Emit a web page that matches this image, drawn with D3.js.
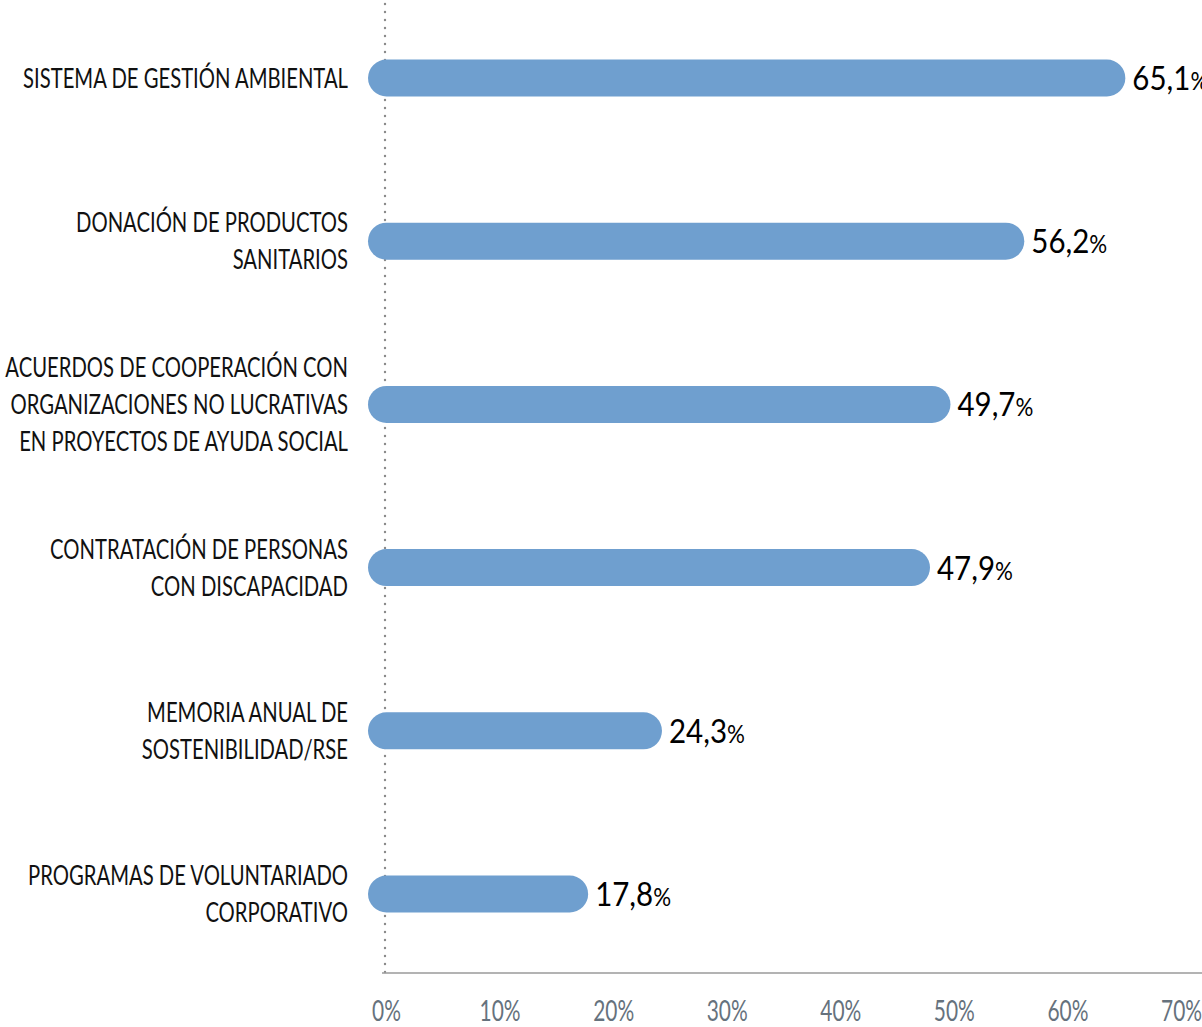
<!DOCTYPE html>
<html><head><meta charset="utf-8">
<script src="https://cdn.jsdelivr.net/npm/d3@7"></script>
<style>
html,body{margin:0;padding:0;background:#fff;}
text{font-family:Lato,"DejaVu Sans Condensed",sans-serif;}
</style></head>
<body><svg id="c" width="1202" height="1027"></svg>
<script>
const categories = [
  ["SISTEMA DE GESTIÓN AMBIENTAL"],
  ["DONACIÓN DE PRODUCTOS","SANITARIOS"],
  ["ACUERDOS DE COOPERACIÓN CON","ORGANIZACIONES NO LUCRATIVAS","EN PROYECTOS DE AYUDA SOCIAL"],
  ["CONTRATACIÓN DE PERSONAS","CON DISCAPACIDAD"],
  ["MEMORIA ANUAL DE","SOSTENIBILIDAD/RSE"],
  ["PROGRAMAS DE VOLUNTARIADO","CORPORATIVO"]
];
const values = [65.1, 56.2, 49.7, 47.9, 24.3, 17.8];
const valueLabels = ["65,1", "56,2", "49,7", "47,9", "24,3", "17,8"];
const ticks = [0, 10, 20, 30, 40, 50, 60, 70];

const svg = d3.select("#c");
const x = d3.scaleLinear().domain([0, 70]).range([386, 1181]);
const y = d3.scalePoint().domain(d3.range(values.length)).range([78, 894]);
const bh = 37;
const axisY = 973;
const labelX = 348;

// dotted vertical line
svg.append("line").attr("x1", x(0)-1).attr("x2", x(0)-1).attr("y1", 4).attr("y2", axisY)
  .attr("stroke", "#8a8a8a").attr("stroke-width", 2.4).attr("stroke-linecap", "round")
  .attr("stroke-dasharray", "0 8");

// bottom axis
const ax = svg.append("g").attr("transform", `translate(0,${axisY})`)
  .call(d3.axisBottom(x).tickValues(ticks).tickSize(0).tickPadding(27).tickFormat(d => d + "%"));
ax.select(".domain").attr("stroke", "#9a9a9a").attr("stroke-width", 1.5).attr("d", `M${x(0)-4},0H1202`);
const tickText = ax.selectAll("text").attr("font-size", 29).attr("fill", "#66727d")
  .attr("font-family", 'Lato,"DejaVu Sans Condensed",sans-serif').attr("font-weight", 400);
const tw = tickText.filter((d) => d === 10).node().getComputedTextLength();
const ts = 41 / tw;
tickText.attr("transform", `scale(${ts},1)`);

const g = svg.append("g");
const valueTexts = [];
const catTexts = [];
values.forEach((v, i) => {
  const cy = y(i);
  g.append("rect").attr("x", x(0) - 18).attr("y", cy - bh/2)
    .attr("width", x(v) - x(0) + 18).attr("height", bh).attr("rx", bh/2)
    .attr("fill", "#6f9fcf");
  const tx = x(v) + 7;
  const t = g.append("text").attr("x", tx).attr("y", cy + 12).attr("fill", "#000");
  t.append("tspan").attr("font-size", 33).text(valueLabels[i]);
  t.append("tspan").attr("font-size", 25).text("%");
  valueTexts.push({t, tx});
  const lines = categories[i];
  const lh = 37;
  const lt = g.append("text").attr("text-anchor", "end").attr("font-size", 27).attr("fill", "#111");
  lines.forEach((l, j) => {
    lt.append("tspan").attr("x", labelX).attr("y", cy + (j - (lines.length-1)/2) * lh).attr("dy", "0.36em").text(l);
  });
  catTexts.push(lt);
});
const vw = valueTexts[5].t.node().getComputedTextLength();
const vs = 76 / vw;
valueTexts.forEach(({t, tx}) => t.attr("transform", `translate(${tx},0) scale(${vs},1) translate(${-tx},0)`));
const cw = catTexts[0].node().getComputedTextLength();
const cs = 325 / cw;
catTexts.forEach(t => t.attr("transform", `translate(${labelX},0) scale(${cs},1) translate(${-labelX},0)`));
</script></body></html>
